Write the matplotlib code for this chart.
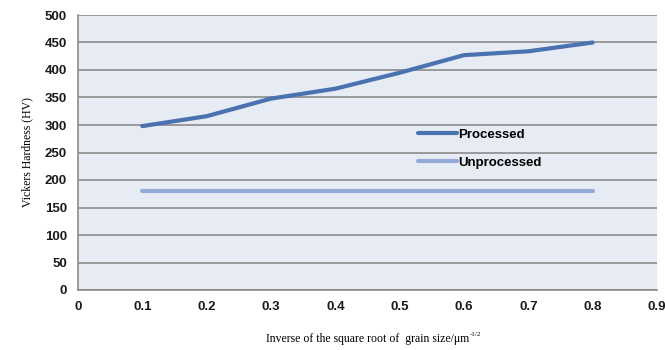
import matplotlib
matplotlib.use("Agg")
import matplotlib.pyplot as plt

x_vals = [0.1, 0.2, 0.3, 0.4, 0.5, 0.6, 0.7, 0.8]
processed = [298, 316, 348, 366, 395, 427, 434, 450]
unprocessed = [180, 180, 180, 180, 180, 180, 180, 180]
x_ticks = [0, 0.1, 0.2, 0.3, 0.4, 0.5, 0.6, 0.7, 0.8, 0.9]
x_tick_labels = ["0", "0.1", "0.2", "0.3", "0.4", "0.5", "0.6", "0.7", "0.8", "0.9"]
y_ticks = [0, 50, 100, 150, 200, 250, 300, 350, 400, 450, 500]

fig = plt.figure(figsize=(6.65, 3.5), dpi=100)
ax = fig.add_axes([78/665, 1-290/350, (657-78)/665, (290-15)/350])
ax.set_facecolor("#E7EBF3")

ax.plot(x_vals, processed, color="#4A72B0", lw=3.0, solid_capstyle="round", label="Processed", zorder=3)
ax.plot(x_vals, unprocessed, color="#93AAD6", lw=3.0, solid_capstyle="round", label="Unprocessed", zorder=3)

ax.set_xlim(0, 0.9)
ax.set_ylim(0, 500)
ax.set_xticks(x_ticks)
ax.set_xticklabels(x_tick_labels)
ax.set_yticks(y_ticks)
ax.yaxis.grid(True, color="#8C8C8C", lw=1.2)
ax.set_axisbelow(True)
for s in ["top", "right"]:
    ax.spines[s].set_visible(False)
for s in ["left", "bottom"]:
    ax.spines[s].set_color("#8C8C8C")
    ax.spines[s].set_linewidth(1.2)
ax.tick_params(length=0, pad=8)
for lab in ax.get_xticklabels() + ax.get_yticklabels():
    lab.set_fontfamily("Liberation Sans")
    lab.set_fontweight("bold")
    lab.set_fontsize(9.5)
    lab.set_color("#1a1a1a")

ax.set_ylabel("Vickers Hardness (HV)", family="Liberation Serif", fontsize=8.5, labelpad=8)
ax.set_xlabel("Inverse of the square root of  grain size/\u03bcm", family="Liberation Serif", fontsize=8.5, labelpad=14)
fig.canvas.draw()
bb = ax.xaxis.label.get_window_extent()
fig.text(bb.x1 / fig.bbox.width + 0.001, bb.y1 / fig.bbox.height + 0.002, "-1/2",
         family="Liberation Serif", fontsize=5, va="top", ha="left")

leg = ax.legend(loc="upper left", bbox_to_anchor=((406-78)/579, (290-117)/275), frameon=False,
                handlelength=3.0, handletextpad=0.05, labelspacing=1.15,
                prop={"family": "Liberation Sans", "weight": "bold", "size": 9.5})

fig.savefig("out.png", dpi=100)
